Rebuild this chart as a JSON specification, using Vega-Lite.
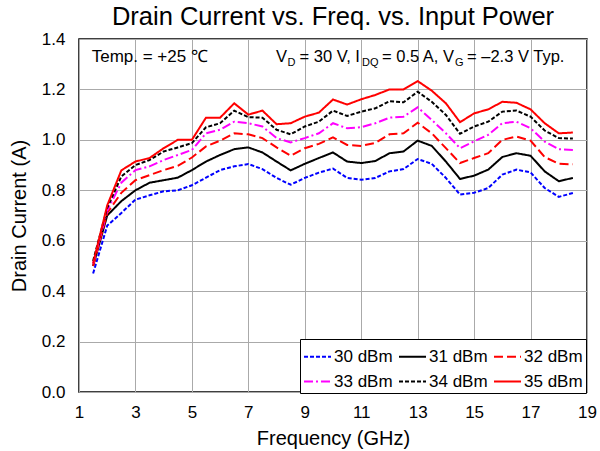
{
  "$schema": "https://vega.github.io/schema/vega-lite/v6.json",
  "width": 508,
  "height": 353,
  "autosize": {"type": "none"},
  "padding": {"left": 79, "top": 39, "right": 13, "bottom": 59},
  "background": "white",
  "title": {"text": "Drain Current vs. Freq. vs. Input Power", "fontSize": 25.5, "font": "Liberation Sans", "fontWeight": "normal", "color": "black", "anchor": "middle", "offset": 0},
  "config": {
    "view": {"stroke": "black", "strokeWidth": 1.5},
    "axis": {"grid": true, "gridColor": "#aaaaaa", "gridWidth": 1, "ticks": false, "domain": false, "labelFont": "Liberation Sans", "labelFontSize": 17, "labelColor": "black", "titleFont": "Liberation Sans", "titleFontSize": 20, "titleFontWeight": "normal", "titleColor": "black", "labelFlush": false, "labelOverlap": false},
    "axisX": {"labelPadding": 12, "titlePadding": 8},
    "axisY": {"labelPadding": 14, "titlePadding": 12}
  },
  "datasets": {
    "curves": [
      {"f":1.5,"P":"30 dBm","I":0.47},{"f":1.5,"P":"31 dBm","I":0.50},{"f":1.5,"P":"32 dBm","I":0.50},{"f":1.5,"P":"33 dBm","I":0.51},{"f":1.5,"P":"34 dBm","I":0.52},{"f":1.5,"P":"35 dBm","I":0.51},
      {"f":2.0,"P":"30 dBm","I":0.66},{"f":2.0,"P":"31 dBm","I":0.70},{"f":2.0,"P":"32 dBm","I":0.71},{"f":2.0,"P":"33 dBm","I":0.72},{"f":2.0,"P":"34 dBm","I":0.73},{"f":2.0,"P":"35 dBm","I":0.74},
      {"f":2.5,"P":"30 dBm","I":0.71},{"f":2.5,"P":"31 dBm","I":0.757},{"f":2.5,"P":"32 dBm","I":0.79},{"f":2.5,"P":"33 dBm","I":0.83},{"f":2.5,"P":"34 dBm","I":0.855},{"f":2.5,"P":"35 dBm","I":0.879},
      {"f":3.0,"P":"30 dBm","I":0.763},{"f":3.0,"P":"31 dBm","I":0.80},{"f":3.0,"P":"32 dBm","I":0.84},{"f":3.0,"P":"33 dBm","I":0.88},{"f":3.0,"P":"34 dBm","I":0.90},{"f":3.0,"P":"35 dBm","I":0.914},
      {"f":3.5,"P":"30 dBm","I":0.78},{"f":3.5,"P":"31 dBm","I":0.83},{"f":3.5,"P":"32 dBm","I":0.86},{"f":3.5,"P":"33 dBm","I":0.895},{"f":3.5,"P":"34 dBm","I":0.92},{"f":3.5,"P":"35 dBm","I":0.928},
      {"f":4.0,"P":"30 dBm","I":0.796},{"f":4.0,"P":"31 dBm","I":0.84},{"f":4.0,"P":"32 dBm","I":0.88},{"f":4.0,"P":"33 dBm","I":0.92},{"f":4.0,"P":"34 dBm","I":0.954},{"f":4.0,"P":"35 dBm","I":0.967},
      {"f":4.5,"P":"30 dBm","I":0.80},{"f":4.5,"P":"31 dBm","I":0.85},{"f":4.5,"P":"32 dBm","I":0.897},{"f":4.5,"P":"33 dBm","I":0.94},{"f":4.5,"P":"34 dBm","I":0.97},{"f":4.5,"P":"35 dBm","I":1.0},
      {"f":5.0,"P":"30 dBm","I":0.82},{"f":5.0,"P":"31 dBm","I":0.88},{"f":5.0,"P":"32 dBm","I":0.93},{"f":5.0,"P":"33 dBm","I":0.96},{"f":5.0,"P":"34 dBm","I":0.987},{"f":5.0,"P":"35 dBm","I":1.0},
      {"f":5.5,"P":"30 dBm","I":0.85},{"f":5.5,"P":"31 dBm","I":0.914},{"f":5.5,"P":"32 dBm","I":0.974},{"f":5.5,"P":"33 dBm","I":1.026},{"f":5.5,"P":"34 dBm","I":1.05},{"f":5.5,"P":"35 dBm","I":1.088},
      {"f":6.0,"P":"30 dBm","I":0.88},{"f":6.0,"P":"31 dBm","I":0.94},{"f":6.0,"P":"32 dBm","I":0.997},{"f":6.0,"P":"33 dBm","I":1.04},{"f":6.0,"P":"34 dBm","I":1.066},{"f":6.0,"P":"35 dBm","I":1.088},
      {"f":6.5,"P":"30 dBm","I":0.895},{"f":6.5,"P":"31 dBm","I":0.963},{"f":6.5,"P":"32 dBm","I":1.026},{"f":6.5,"P":"33 dBm","I":1.072},{"f":6.5,"P":"34 dBm","I":1.116},{"f":6.5,"P":"35 dBm","I":1.145},
      {"f":7.0,"P":"30 dBm","I":0.904},{"f":7.0,"P":"31 dBm","I":0.97},{"f":7.0,"P":"32 dBm","I":1.022},{"f":7.0,"P":"33 dBm","I":1.066},{"f":7.0,"P":"34 dBm","I":1.09},{"f":7.0,"P":"35 dBm","I":1.10},
      {"f":7.5,"P":"30 dBm","I":0.884},{"f":7.5,"P":"31 dBm","I":0.95},{"f":7.5,"P":"32 dBm","I":1.007},{"f":7.5,"P":"33 dBm","I":1.053},{"f":7.5,"P":"34 dBm","I":1.088},{"f":7.5,"P":"35 dBm","I":1.116},
      {"f":8.0,"P":"30 dBm","I":0.849},{"f":8.0,"P":"31 dBm","I":0.914},{"f":8.0,"P":"32 dBm","I":0.97},{"f":8.0,"P":"33 dBm","I":1.007},{"f":8.0,"P":"34 dBm","I":1.04},{"f":8.0,"P":"35 dBm","I":1.062},
      {"f":8.5,"P":"30 dBm","I":0.822},{"f":8.5,"P":"31 dBm","I":0.879},{"f":8.5,"P":"32 dBm","I":0.937},{"f":8.5,"P":"33 dBm","I":0.99},{"f":8.5,"P":"34 dBm","I":1.022},{"f":8.5,"P":"35 dBm","I":1.066},
      {"f":9.0,"P":"30 dBm","I":0.849},{"f":9.0,"P":"31 dBm","I":0.905},{"f":9.0,"P":"32 dBm","I":0.967},{"f":9.0,"P":"33 dBm","I":1.007},{"f":9.0,"P":"34 dBm","I":1.053},{"f":9.0,"P":"35 dBm","I":1.092},
      {"f":9.5,"P":"30 dBm","I":0.87},{"f":9.5,"P":"31 dBm","I":0.928},{"f":9.5,"P":"32 dBm","I":0.984},{"f":9.5,"P":"33 dBm","I":1.026},{"f":9.5,"P":"34 dBm","I":1.072},{"f":9.5,"P":"35 dBm","I":1.108},
      {"f":10.0,"P":"30 dBm","I":0.886},{"f":10.0,"P":"31 dBm","I":0.95},{"f":10.0,"P":"32 dBm","I":1.01},{"f":10.0,"P":"33 dBm","I":1.066},{"f":10.0,"P":"34 dBm","I":1.116},{"f":10.0,"P":"35 dBm","I":1.16},
      {"f":10.5,"P":"30 dBm","I":0.849},{"f":10.5,"P":"31 dBm","I":0.914},{"f":10.5,"P":"32 dBm","I":0.98},{"f":10.5,"P":"33 dBm","I":1.046},{"f":10.5,"P":"34 dBm","I":1.095},{"f":10.5,"P":"35 dBm","I":1.14},
      {"f":11.0,"P":"30 dBm","I":0.842},{"f":11.0,"P":"31 dBm","I":0.908},{"f":11.0,"P":"32 dBm","I":0.976},{"f":11.0,"P":"33 dBm","I":1.05},{"f":11.0,"P":"34 dBm","I":1.112},{"f":11.0,"P":"35 dBm","I":1.161},
      {"f":11.5,"P":"30 dBm","I":0.849},{"f":11.5,"P":"31 dBm","I":0.916},{"f":11.5,"P":"32 dBm","I":0.988},{"f":11.5,"P":"33 dBm","I":1.066},{"f":11.5,"P":"34 dBm","I":1.125},{"f":11.5,"P":"35 dBm","I":1.178},
      {"f":12.0,"P":"30 dBm","I":0.875},{"f":12.0,"P":"31 dBm","I":0.947},{"f":12.0,"P":"32 dBm","I":1.022},{"f":12.0,"P":"33 dBm","I":1.088},{"f":12.0,"P":"34 dBm","I":1.153},{"f":12.0,"P":"35 dBm","I":1.2},
      {"f":12.5,"P":"30 dBm","I":0.884},{"f":12.5,"P":"31 dBm","I":0.954},{"f":12.5,"P":"32 dBm","I":1.026},{"f":12.5,"P":"33 dBm","I":1.092},{"f":12.5,"P":"34 dBm","I":1.149},{"f":12.5,"P":"35 dBm","I":1.2},
      {"f":13.0,"P":"30 dBm","I":0.924},{"f":13.0,"P":"31 dBm","I":0.997},{"f":13.0,"P":"32 dBm","I":1.068},{"f":13.0,"P":"33 dBm","I":1.129},{"f":13.0,"P":"34 dBm","I":1.191},{"f":13.0,"P":"35 dBm","I":1.233},
      {"f":13.5,"P":"30 dBm","I":0.905},{"f":13.5,"P":"31 dBm","I":0.976},{"f":13.5,"P":"32 dBm","I":1.026},{"f":13.5,"P":"33 dBm","I":1.079},{"f":13.5,"P":"34 dBm","I":1.151},{"f":13.5,"P":"35 dBm","I":1.195},
      {"f":14.0,"P":"30 dBm","I":0.849},{"f":14.0,"P":"31 dBm","I":0.914},{"f":14.0,"P":"32 dBm","I":0.967},{"f":14.0,"P":"33 dBm","I":1.026},{"f":14.0,"P":"34 dBm","I":1.099},{"f":14.0,"P":"35 dBm","I":1.145},
      {"f":14.5,"P":"30 dBm","I":0.783},{"f":14.5,"P":"31 dBm","I":0.845},{"f":14.5,"P":"32 dBm","I":0.908},{"f":14.5,"P":"33 dBm","I":0.967},{"f":14.5,"P":"34 dBm","I":1.024},{"f":14.5,"P":"35 dBm","I":1.07},
      {"f":15.0,"P":"30 dBm","I":0.79},{"f":15.0,"P":"31 dBm","I":0.858},{"f":15.0,"P":"32 dBm","I":0.928},{"f":15.0,"P":"33 dBm","I":0.994},{"f":15.0,"P":"34 dBm","I":1.053},{"f":15.0,"P":"35 dBm","I":1.105},
      {"f":15.5,"P":"30 dBm","I":0.809},{"f":15.5,"P":"31 dBm","I":0.882},{"f":15.5,"P":"32 dBm","I":0.947},{"f":15.5,"P":"33 dBm","I":1.02},{"f":15.5,"P":"34 dBm","I":1.072},{"f":15.5,"P":"35 dBm","I":1.121},
      {"f":16.0,"P":"30 dBm","I":0.862},{"f":16.0,"P":"31 dBm","I":0.932},{"f":16.0,"P":"32 dBm","I":1.0},{"f":16.0,"P":"33 dBm","I":1.066},{"f":16.0,"P":"34 dBm","I":1.112},{"f":16.0,"P":"35 dBm","I":1.151},
      {"f":16.5,"P":"30 dBm","I":0.882},{"f":16.5,"P":"31 dBm","I":0.947},{"f":16.5,"P":"32 dBm","I":1.013},{"f":16.5,"P":"33 dBm","I":1.072},{"f":16.5,"P":"34 dBm","I":1.116},{"f":16.5,"P":"35 dBm","I":1.147},
      {"f":17.0,"P":"30 dBm","I":0.871},{"f":17.0,"P":"31 dBm","I":0.937},{"f":17.0,"P":"32 dBm","I":0.997},{"f":17.0,"P":"33 dBm","I":1.046},{"f":17.0,"P":"34 dBm","I":1.092},{"f":17.0,"P":"35 dBm","I":1.121},
      {"f":17.5,"P":"30 dBm","I":0.809},{"f":17.5,"P":"31 dBm","I":0.875},{"f":17.5,"P":"32 dBm","I":0.932},{"f":17.5,"P":"33 dBm","I":0.993},{"f":17.5,"P":"34 dBm","I":1.037},{"f":17.5,"P":"35 dBm","I":1.066},
      {"f":18.0,"P":"30 dBm","I":0.774},{"f":18.0,"P":"31 dBm","I":0.836},{"f":18.0,"P":"32 dBm","I":0.905},{"f":18.0,"P":"33 dBm","I":0.963},{"f":18.0,"P":"34 dBm","I":1.007},{"f":18.0,"P":"35 dBm","I":1.026},
      {"f":18.5,"P":"30 dBm","I":0.789},{"f":18.5,"P":"31 dBm","I":0.849},{"f":18.5,"P":"32 dBm","I":0.903},{"f":18.5,"P":"33 dBm","I":0.96},{"f":18.5,"P":"34 dBm","I":1.005},{"f":18.5,"P":"35 dBm","I":1.029}
    ],
    "notes": [
      {"f":1.45,"I":1.309,"t":"Temp. = +25 ℃"}
    ],
    "conds": [
      {"f":7.98,"I":1.309,"t":"V"},
      {"f":8.813,"I":1.309,"t":"= 30 V, I"},
      {"f":11.736,"I":1.309,"t":"= 0.5 A, V"},
      {"f":14.748,"I":1.309,"t":"= –2.3 V Typ."}
    ],
    "subs": [
      {"f":8.388,"I":1.291,"t":"D"},
      {"f":11.028,"I":1.291,"t":"DQ"},
      {"f":14.323,"I":1.291,"t":"G"}
    ]
  },
  "layer": [
    {
      "data": {"name": "curves"},
      "mark": {"type": "line", "strokeWidth": 2},
      "encoding": {
        "x": {"field": "f", "type": "quantitative", "scale": {"domain": [1, 19], "nice": false, "zero": false}, "axis": {"values": [1,3,5,7,9,11,13,15,17,19], "title": "Frequency (GHz)"}},
        "y": {"field": "I", "type": "quantitative", "scale": {"domain": [0, 1.4], "nice": false}, "axis": {"values": [0,0.2,0.4,0.6,0.8,1.0,1.2,1.4], "format": ".1f", "title": "Drain Current (A)"}},
        "color": {"field": "P", "type": "nominal", "scale": {"domain": ["30 dBm","31 dBm","32 dBm","33 dBm","34 dBm","35 dBm"], "range": ["#0000ff","#000000","#ff0000","#ff00ff","#000000","#ff0000"]},
          "legend": {"title": null, "orient": "none", "legendX": 221, "legendY": 300, "columns": 3, "direction": "horizontal", "symbolType": "stroke", "symbolSize": 729, "symbolStrokeWidth": 2, "labelFontSize": 17, "labelFont": "Liberation Sans", "labelColor": "black", "labelOffset": 2, "columnPadding": 2, "rowPadding": 2, "padding": 3, "strokeColor": "black", "fillColor": "white"}},
        "strokeDash": {"field": "P", "type": "nominal", "scale": {"domain": ["30 dBm","31 dBm","32 dBm","33 dBm","34 dBm","35 dBm"], "range": [[4,2],[1,0],[9,4],[9,3,2,3],[4,2],[1,0]]},
          "legend": {"title": null, "orient": "none", "legendX": 221, "legendY": 300, "columns": 3, "direction": "horizontal", "symbolType": "stroke", "symbolSize": 729, "symbolStrokeWidth": 2, "labelFontSize": 17, "labelFont": "Liberation Sans", "labelColor": "black", "labelOffset": 2, "columnPadding": 2, "rowPadding": 2, "padding": 3, "strokeColor": "black", "fillColor": "white"}}
      }
    },
    {
      "data": {"name": "notes"},
      "mark": {"type": "text", "align": "left", "baseline": "alphabetic", "fontSize": 17, "font": "Liberation Sans", "color": "black"},
      "encoding": {
        "x": {"field": "f", "type": "quantitative"},
        "y": {"field": "I", "type": "quantitative"},
        "text": {"field": "t"}
      }
    },
    {
      "data": {"name": "conds"},
      "mark": {"type": "text", "align": "left", "baseline": "alphabetic", "fontSize": 16.5, "font": "Liberation Sans", "color": "black"},
      "encoding": {
        "x": {"field": "f", "type": "quantitative"},
        "y": {"field": "I", "type": "quantitative"},
        "text": {"field": "t"}
      }
    },
    {
      "data": {"name": "subs"},
      "mark": {"type": "text", "align": "left", "baseline": "alphabetic", "fontSize": 11, "font": "Liberation Sans", "color": "black"},
      "encoding": {
        "x": {"field": "f", "type": "quantitative"},
        "y": {"field": "I", "type": "quantitative"},
        "text": {"field": "t"}
      }
    }
  ]
}
